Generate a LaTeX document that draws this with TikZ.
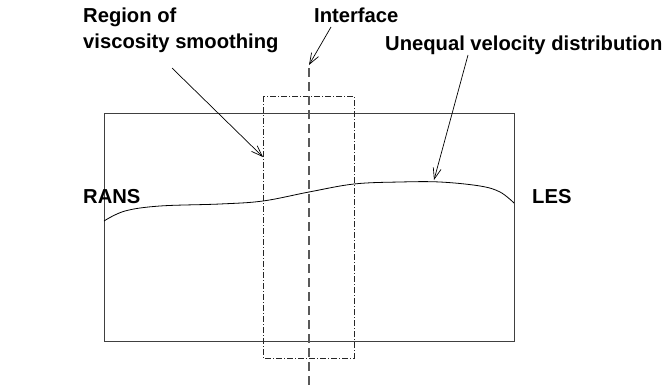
\documentclass[tikz,border=0pt]{standalone}
\usepackage{fontspec}
\setmainfont{Liberation Sans}
\usetikzlibrary{arrows.meta}
\begin{document}
\begin{tikzpicture}[x=1pt,y=-1pt,
  lbl/.style={font=\fontsize{20.2}{23}\selectfont\bfseries, inner sep=0pt, anchor=base west},
  pointer/.style={line width=0.7pt, -{Straight Barb[length=11pt,width=8pt]}},
  frame/.style={draw=black!75, line width=1pt},
  zone/.style={draw=black!85, line width=0.6pt, dash pattern=on 6pt off 2pt on 1pt off 2pt},
  iface/.style={draw=black!65, line width=1.4pt, dash pattern=on 9pt off 5pt}]
\useasboundingbox (0,0) rectangle (664,388);
\fill[white] (0,0) rectangle (664,388);
% main domain
\draw[frame] (104,113) rectangle (514,341);
% smoothing zone
\draw[zone] (263,96) rectangle (354,358);
% interface line
\coordinate (itop) at (309,68);
\coordinate (ibot) at (309,388);
\draw[iface] (itop) -- (ibot);
% velocity profile
\draw[line width=0.8pt] plot[smooth, tension=0.6] coordinates {(104,221) (125,211) (160,206) (220,204) (263,201) (309,192) (354,184) (400,182) (440,182) (480,186) (500,192) (514,203)};
% labels
\node[lbl] (reg1) at (83,23) {Region of};
\node[lbl] (reg2) at (83,48) {viscosity smoothing};
\node[lbl] (int) at (314,23) {Interface};
\node[lbl] (uneq) at (385,50) {Unequal velocity distribution};
\node[lbl] (rans) at (83,203) {RANS};
\node[lbl] (les) at (532,203) {LES};
% pointers
\coordinate (a1s) at (172,68);
\coordinate (a1e) at (263,157);
\coordinate (a2s) at (331,27);
\coordinate (a2e) at (309,65);
\coordinate (a3s) at (468,55);
\coordinate (a3e) at (434,180);
\draw[pointer] (a1s) -- (a1e);
\draw[pointer] (a2s) -- (a2e);
\draw[pointer] (a3s) -- (a3e);
\end{tikzpicture}
\end{document}
